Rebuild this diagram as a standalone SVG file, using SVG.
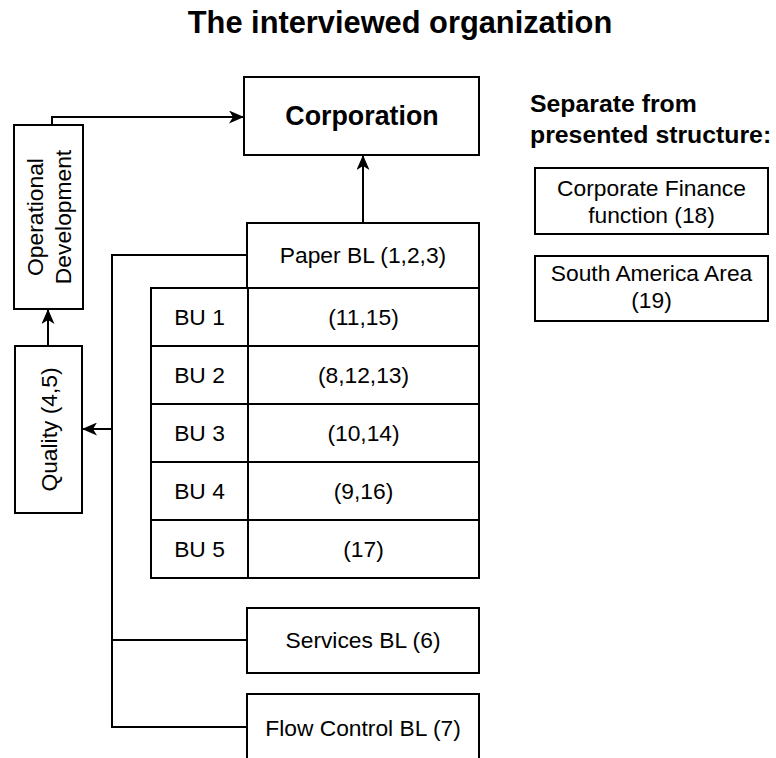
<svg xmlns="http://www.w3.org/2000/svg" width="776" height="758" viewBox="0 0 776 758">
<defs>
<style>
.box{fill:#fff;stroke:#000;stroke-width:2}
.ln{fill:none;stroke:#000;stroke-width:2}
.t{font-family:"Liberation Sans",Arial,sans-serif;font-size:22.8px;fill:#000;text-anchor:middle}
.b{font-family:"Liberation Sans",Arial,sans-serif;font-weight:bold;fill:#000}
</style>
<marker id="arr" markerWidth="15" markerHeight="13" viewBox="0 0 15 13" refX="14" refY="6.5" orient="auto" markerUnits="userSpaceOnUse">
<path d="M0,0 L15,6.5 L0,13 L4,6.5 Z" fill="#000"/>
</marker>
</defs>
<rect width="776" height="758" fill="#fff"/>
<text class="b" x="400" y="33" font-size="30.8" text-anchor="middle">The interviewed organization</text>
<g id="connectors">
<path class="ln" d="M52,125 L52,117 L243,117" marker-end="url(#arr)"/>
<path class="ln" d="M363,223 L363,156" marker-end="url(#arr)"/>
<path class="ln" d="M48,346 L48,310" marker-end="url(#arr)"/>
<path class="ln" d="M247,255 L112,255 L112,727 L247,727"/>
<path class="ln" d="M112,640 L247,640"/>
<path class="ln" d="M112,429 L83,429" marker-end="url(#arr)"/>
</g>
<g id="corporation">
<rect class="box" x="244" y="77" width="235" height="78"/>
<text class="b" x="362" y="125" font-size="26.8" text-anchor="middle">Corporation</text>
</g>
<g id="opdev">
<rect class="box" x="14" y="125" width="69" height="184"/>
<text class="t" transform="translate(48.5,217) rotate(-90)"><tspan x="0" y="-6">Operational</tspan><tspan x="0" y="22">Development</tspan></text>
</g>
<g id="quality">
<rect class="box" x="15" y="346" width="67" height="167"/>
<text class="t" transform="translate(48.5,429.5) rotate(-90)" x="0" y="8">Quality (4,5)</text>
</g>
<g id="paperbl">
<rect class="box" x="247" y="223" width="232" height="65"/>
<text class="t" x="363" y="263">Paper BL (1,2,3)</text>
</g>
<g id="bu-table">
<rect class="box" x="151" y="288" width="328" height="290"/>
<path class="ln" d="M248,288 L248,578 M151,346 L479,346 M151,404 L479,404 M151,462 L479,462 M151,520 L479,520"/>
</g>
<g id="bu1"><text class="t" x="199.5" y="325">BU 1</text><text class="t" x="363.5" y="325">(11,15)</text></g>
<g id="bu2"><text class="t" x="199.5" y="383">BU 2</text><text class="t" x="363.5" y="383">(8,12,13)</text></g>
<g id="bu3"><text class="t" x="199.5" y="441">BU 3</text><text class="t" x="363.5" y="441">(10,14)</text></g>
<g id="bu4"><text class="t" x="199.5" y="499">BU 4</text><text class="t" x="363.5" y="499">(9,16)</text></g>
<g id="bu5"><text class="t" x="199.5" y="557">BU 5</text><text class="t" x="363.5" y="557">(17)</text></g>
<g id="services">
<rect class="box" x="247" y="608" width="232" height="65"/>
<text class="t" x="363" y="648">Services BL (6)</text>
</g>
<g id="flowcontrol">
<rect class="box" x="247" y="694" width="232" height="66"/>
<text class="t" x="363" y="736">Flow Control BL (7)</text>
</g>
<g id="separate-heading">
<text class="b" font-size="24.8" x="530" y="112">Separate from</text>
<text class="b" font-size="24.8" x="530" y="143">presented structure:</text>
</g>
<g id="finance">
<rect class="box" x="535" y="168" width="233" height="66"/>
<text class="t" x="651.5" y="196">Corporate Finance</text>
<text class="t" x="651.5" y="223">function (18)</text>
</g>
<g id="southamerica">
<rect class="box" x="535" y="256" width="233" height="65"/>
<text class="t" x="651.5" y="281">South America Area</text>
<text class="t" x="651.5" y="308">(19)</text>
</g>
</svg>
